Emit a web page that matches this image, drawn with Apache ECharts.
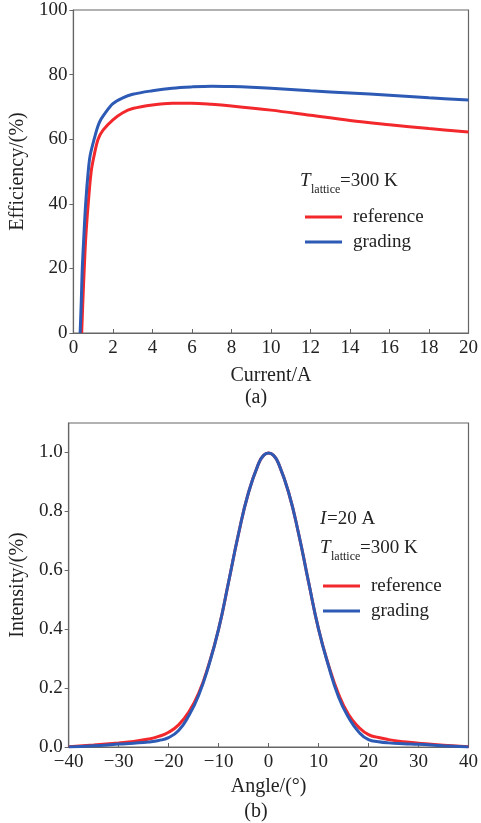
<!DOCTYPE html>
<html>
<head>
<meta charset="utf-8">
<script src="https://cdn.jsdelivr.net/npm/echarts@6/dist/echarts.min.js"></script>
<style>html,body{margin:0;padding:0;background:#fff;}#c{width:481px;height:823px;}</style>
</head>
<body>
<div id="c"></div>
<script>
// ---- (a) Efficiency vs current ----
var currentRef = [0.42,0.48,0.55,0.63,0.75,0.9,1.05,1.25,1.5,2,2.5,3,4,5,6,7,8,10,12,14,16,18,20];
var effRef     = [0,10,20,30,40,50,55,60,62.8,66,68.2,69.5,70.6,71.1,71.1,70.8,70.3,69.0,67.4,65.8,64.5,63.3,62.2];
var currentGrad = [0.34,0.4,0.45,0.53,0.62,0.75,0.85,1.05,1.3,1.6,2,2.5,3,4,5,6,7,8,9,10,12,14,16,18,20];
var effGrad     = [0,10,20,30,40,50,55,60,65,68,71,72.8,73.9,75,75.8,76.2,76.4,76.3,76.1,75.8,75.0,74.3,73.6,72.8,72.1];

// ---- (b) Intensity vs angle ----
var angles = [-40,-35,-30,-27,-24,-22,-20,-18,-16,-14,-12,-10,-8,-6,-4,-2,-1,0,1,2,4,6,8,10,12,14,16,18,20,22,24,27,30,35,40];
var intRef  = [0.001,0.007,0.014,0.019,0.027,0.036,0.050,0.075,0.118,0.182,0.278,0.40,0.56,0.725,0.865,0.962,0.99,0.998,0.99,0.962,0.865,0.725,0.56,0.40,0.278,0.18,0.11,0.068,0.042,0.032,0.025,0.018,0.013,0.006,0.001];
var intGrad = [0.000,0.004,0.010,0.013,0.017,0.022,0.032,0.056,0.105,0.175,0.275,0.40,0.56,0.725,0.865,0.962,0.99,0.998,0.99,0.962,0.865,0.725,0.56,0.40,0.275,0.17,0.10,0.052,0.025,0.018,0.014,0.011,0.009,0.004,0.000];

var xTicksA = [0,20,2], yTicksA = [0,100,20];
var xTicksB = [-40,40,10], yTicksB = [0,1.1,0.2];

var seriesNames = ['reference','grading'];
var RED = '#f2282c', BLUE = '#2c5ab4';
var FONT = 'Liberation Serif';
var TXT = '#222';

function pairs(xs, ys){ return xs.map(function(x,i){return [x, ys[i]];}); }
function minus(v){ return String(v).replace('-', '\u2212'); }

var chart = echarts.init(document.getElementById('c'), null, {renderer:'canvas'});

var labelRich = {a:{fontFamily:FONT, fontSize:19, color:TXT}};

function xAxis(idx, t, name, gap, fmt){
  return {
    type:'value', gridIndex:idx, min:t[0], max:t[1], interval:t[2],
    name:name, nameLocation:'middle', nameGap:gap,
    nameTextStyle:{fontFamily:FONT, fontSize:20, color:TXT},
    axisLine:{show:true, onZero:false, lineStyle:{color:'#666', width:1.2}},
    axisTick:{show:true, inside:true, length:4, lineStyle:{color:'#666'}},
    axisLabel:{fontFamily:FONT, fontSize:19, color:TXT, margin:6, rich:labelRich,
      formatter:function(v){return '{a|'+fmt(v)+'}';}},
    splitLine:{show:false}
  };
}
function yAxis(idx, t, name, gap, fmt){
  return {
    type:'value', gridIndex:idx, min:t[0], max:t[1], interval:t[2],
    name:name, nameLocation:'middle', nameGap:gap,
    nameTextStyle:{fontFamily:FONT, fontSize:20, color:TXT},
    axisLine:{show:true, onZero:false, lineStyle:{color:'#666', width:1.2}},
    axisTick:{show:true, inside:false, length:4, lineStyle:{color:'#666'}},
    axisLabel:{fontFamily:FONT, fontSize:19, color:TXT, margin:6, rich:labelRich,
      formatter:function(v){return '{a|'+fmt(v)+'}';}, showMaxLabel: idx===1 ? false : true},
    splitLine:{show:false}
  };
}

function lineSeries(name, data, color, xi, yi, z, sm){
  return {
    type:'line', name:name, data:data, xAxisIndex:xi, yAxisIndex:yi,
    showSymbol:false, smooth:sm, z:z,
    lineStyle:{color:color, width:3}, itemStyle:{color:color}
  };
}

function legendAt(left, top){
  return {
    data:seriesNames, orient:'vertical', left:left, top:top,
    icon:'rect', itemWidth:37, itemHeight:3, itemGap:5,
    textStyle:{fontFamily:FONT, fontSize:19, color:TXT, lineHeight:20, padding:[0,0,0,6]}
  };
}

function subLabel(x, yMid, extraLines){
  var els = [];
  (extraLines||[]).forEach(function(e){ els.push(e); });
  els.push({type:'text', x:x, y:yMid, style:{text:'T', font:'italic 19px "Liberation Serif"', fill:TXT, textVerticalAlign:'middle'}});
  els.push({type:'text', x:x+11, y:yMid+9, style:{text:'lattice', font:'12px "Liberation Serif"', fill:TXT, textVerticalAlign:'middle'}});
  els.push({type:'text', x:x+40, y:yMid, style:{text:'=300 K', font:'19px "Liberation Serif"', fill:TXT, textVerticalAlign:'middle'}});
  return els;
}

var graphics = [];
graphics = graphics.concat(subLabel(300, 181));
graphics = graphics.concat(subLabel(320, 548, [
  {type:'text', x:320, y:519, style:{text:'I', font:'italic 19px "Liberation Serif"', fill:TXT, textVerticalAlign:'middle'}},
  {type:'text', x:327, y:519, style:{text:'=20 A', font:'19px "Liberation Serif"', fill:TXT, textVerticalAlign:'middle'}}
]));
graphics.push({type:'text', x:256, y:398, style:{text:'(a)', font:'20px "Liberation Serif"', fill:TXT, textAlign:'center', textVerticalAlign:'middle'}});
graphics.push({type:'text', x:256, y:812, style:{text:'(b)', font:'20px "Liberation Serif"', fill:TXT, textAlign:'center', textVerticalAlign:'middle'}});

var option = {
  backgroundColor:'#fff',
  animation:false,
  textStyle:{fontFamily:FONT},
  grid:[
    {left:68, top:10, width:401, height:323, show:true, borderColor:'#666', borderWidth:1.2, backgroundColor:'transparent'},
    {left:68, top:423, width:401, height:324, show:true, borderColor:'#666', borderWidth:1.2, backgroundColor:'transparent'}
  ],
  xAxis:[
    xAxis(0, xTicksA, 'Current/A', 33, minus),
    xAxis(1, xTicksB, 'Angle/(\u00B0)', 30, minus)
  ],
  yAxis:[
    yAxis(0, yTicksA, 'Efficiency/(%)', 40, minus),
    yAxis(1, yTicksB, 'Intensity/(%)', 40, function(v){return v.toFixed(1);})
  ],
  legend:[ legendAt(300, 202), legendAt(318, 571) ],
  series:[
    lineSeries('reference', pairs(currentRef, effRef), RED, 0, 0, 2, 0.35),
    lineSeries('grading', pairs(currentGrad, effGrad), BLUE, 0, 0, 3, 0.35),
    lineSeries('reference', pairs(angles, intRef), RED, 1, 1, 2, 0.5),
    lineSeries('grading', pairs(angles, intGrad), BLUE, 1, 1, 3, 0.5)
  ],
  graphic:graphics
};
chart.setOption(option);
</script>
</body>
</html>
